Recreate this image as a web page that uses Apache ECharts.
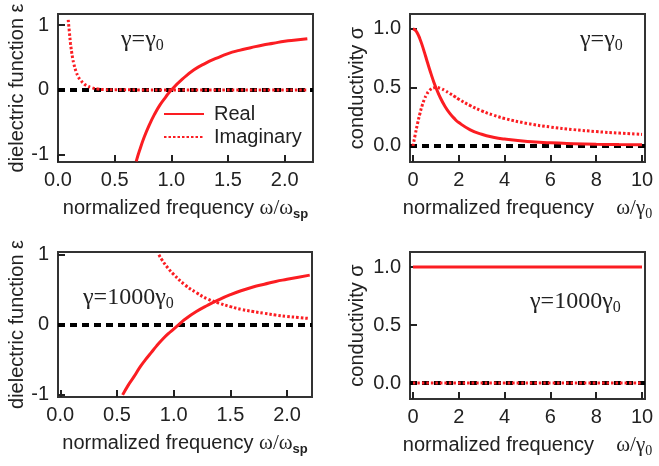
<!DOCTYPE html>
<html>
<head>
<meta charset="utf-8">
<script src="https://cdn.jsdelivr.net/npm/echarts@6/dist/echarts.min.js"></script>
<style>
  html, body { margin: 0; padding: 0; background: #fff; }
  #chart { width: 659px; height: 466px; }
</style>
</head>
<body>
<div id="chart"></div>
<script>
// Drude response: dielectric function vs ω/ω_sp and conductivity vs ω/γ0,
// for a small damping γ = γ0 (top row) and a large one γ = 1000γ0 (bottom row).

// tick values
const epsFreqTicks = [0, 0.5, 1, 1.5, 2];
const epsTicks = [-1, 0, 1];
const sigFreqTicks = [0, 2, 4, 6, 8, 10];
const sigTicks = [0, 0.5, 1];

// γ = γ0 : dielectric function
const eps1ReW = [0.69, 0.72, 0.76, 0.8, 0.85, 0.9, 0.95, 1.0, 1.1, 1.2, 1.3, 1.4, 1.5, 1.6, 1.7, 1.8, 1.9, 2.0, 2.1, 2.2];
const eps1Re  = [-1.10, -0.93, -0.73, -0.56, -0.38, -0.23, -0.11, 0.0, 0.17, 0.31, 0.41, 0.49, 0.56, 0.61, 0.65, 0.69, 0.72, 0.75, 0.77, 0.79];
const eps1ImW = [0.09, 0.1, 0.11, 0.12, 0.13, 0.14, 0.16, 0.18, 0.2, 0.22, 0.25, 0.3, 0.35, 0.4, 0.5, 0.7, 1.0, 1.5, 2.2];
const eps1Im  = [1.08, 0.9, 0.72, 0.59, 0.48, 0.4, 0.28, 0.2, 0.15, 0.11, 0.07, 0.035, 0.015, 0.006, 0.003, 0.001, 0.0005, 0.0002, 0.0001];

// γ = γ0 : conductivity
const sig1W  = [0, 0.1, 0.2, 0.3, 0.4, 0.5, 0.6, 0.7, 0.8, 0.9, 1.0, 1.2, 1.4, 1.6, 1.8, 2.0, 2.5, 3, 3.5, 4, 5, 6, 7, 8, 9, 10];
const sig1Re = [1, 0.99, 0.962, 0.917, 0.862, 0.8, 0.735, 0.671, 0.61, 0.552, 0.5, 0.41, 0.338, 0.281, 0.236, 0.2, 0.138, 0.1, 0.075, 0.059, 0.038, 0.027, 0.02, 0.015, 0.012, 0.01];
const sig1Im = [0, 0.099, 0.192, 0.275, 0.345, 0.4, 0.441, 0.47, 0.488, 0.497, 0.5, 0.492, 0.473, 0.449, 0.425, 0.4, 0.345, 0.3, 0.264, 0.235, 0.192, 0.162, 0.14, 0.123, 0.11, 0.099];

// γ = 1000γ0 : dielectric function
const eps2ReW = [0.55, 0.6, 0.65, 0.7, 0.75, 0.8, 0.85, 0.9, 0.95, 1.0, 1.05, 1.1, 1.2, 1.3, 1.4, 1.5, 1.6, 1.7, 1.8, 1.9, 2.0, 2.1, 2.2];
const eps2Re  = [-1.0, -0.86, -0.74, -0.61, -0.5, -0.4, -0.3, -0.21, -0.13, -0.06, 0.01, 0.08, 0.19, 0.28, 0.36, 0.43, 0.49, 0.54, 0.58, 0.62, 0.65, 0.68, 0.71];
const eps2ImW = [0.87, 0.9, 0.95, 1.0, 1.1, 1.2, 1.3, 1.4, 1.5, 1.6, 1.7, 1.8, 1.9, 2.0, 2.1, 2.2];
const eps2Im  = [1.0, 0.92, 0.81, 0.72, 0.57, 0.46, 0.37, 0.31, 0.26, 0.22, 0.19, 0.165, 0.14, 0.12, 0.105, 0.09];

// γ = 1000γ0 : conductivity
const sig2W  = [0, 2, 4, 6, 8, 10];
const sig2Re = [1, 1, 1, 1, 1, 1];
const sig2Im = [0, 0, 0, 0, 0, 0];

const RED = '#fb1d22';
const INK = '#222';
const SANS = 'Liberation Sans';
const SERIF = 'Liberation Serif';

const zip = (xs, ys) => xs.map((x, i) => [x, ys[i]]);

const grids = [
  { left: 58,  top: 14,  width: 255, height: 148 },
  { left: 410, top: 14,  width: 235, height: 148 },
  { left: 58,  top: 252, width: 254, height: 145 },
  { left: 410, top: 252, width: 235, height: 147 }
];

const tickStyle = { inside: true, length: 7, lineStyle: { color: INK, width: 2 } };
const labelFont = { fontFamily: SANS, fontSize: 20, color: INK };

const subRich = {
  t: { fontFamily: SANS, fontSize: 20, color: INK, lineHeight: 26 },
  w: { fontFamily: SERIF, fontSize: 21, color: INK, lineHeight: 26 },
  s: { fontFamily: SANS, fontSize: 13, fontWeight: 'bold', color: INK, lineHeight: 12, verticalAlign: 'bottom' },
  z: { fontFamily: SERIF, fontSize: 14, color: INK, lineHeight: 12, verticalAlign: 'bottom' }
};

function xAxis(idx, min, max, ticks, fmt, name) {
  return {
    type: 'value', gridIndex: idx, min, max, position: 'bottom',
    axisLine: { show: false, onZero: false },
    axisTick: Object.assign({ customValues: ticks }, tickStyle),
    axisLabel: Object.assign({ customValues: ticks, margin: 8, formatter: fmt }, labelFont),
    splitLine: { show: false },
    name, nameLocation: 'middle', nameGap: 33,
    nameTextStyle: { rich: subRich }
  };
}

function yAxis(idx, min, max, ticks, fmt, name, gap) {
  return {
    type: 'value', gridIndex: idx, min, max, position: 'left',
    axisLine: { show: false, onZero: false },
    axisTick: Object.assign({ customValues: ticks }, tickStyle),
    axisLabel: Object.assign({ customValues: ticks, margin: 9, formatter: fmt }, labelFont),
    splitLine: { show: false },
    name, nameLocation: 'middle', nameRotate: 90, nameGap: gap,
    nameTextStyle: { fontFamily: SANS, fontSize: 20, color: INK }
  };
}

const fmt1 = v => v.toFixed(1);
const fmt0 = v => String(Math.round(v));

// thick black dashed zero reference in every panel
const zeroLine = {
  silent: true, symbol: 'none', z: 1, animation: false,
  label: { show: false },
  lineStyle: { color: '#000', width: 4, type: [7, 5] },
  emphasis: { disabled: true },
  data: [{ yAxis: 0 }]
};

function curve(idx, name, xs, ys, dotted, withZero) {
  const s = {
    name, type: 'line', xAxisIndex: idx, yAxisIndex: idx,
    data: zip(xs, ys), symbol: 'none', smooth: 0.5, z: 3,
    lineStyle: { color: RED, width: 3, type: dotted ? [2.5, 2] : 'solid' },
    itemStyle: { color: RED },
    clip: true
  };
  if (withZero) s.markLine = zeroLine;
  return s;
}

const serifRich = {
  g: { fontFamily: SERIF, fontSize: 24, fill: INK, lineHeight: 28 },
  s: { fontFamily: SERIF, fontSize: 16, fill: INK, lineHeight: 14, verticalAlign: 'bottom' }
};

function gammaLabel(left, top, text) {
  return { type: 'text', left, top, style: { text, rich: serifRich } };
}

const option = {
  animation: false,
  backgroundColor: '#fff',
  grid: grids.map(g => Object.assign({ show: true, borderColor: '#333', borderWidth: 2, backgroundColor: 'transparent', containLabel: false }, g)),
  xAxis: [
    xAxis(0, 0, 2.25, epsFreqTicks, fmt1, '{t|normalized frequency }{w|ω/ω}{s|sp}'),
    xAxis(1, -0.13, 10.13, sigFreqTicks, fmt0, '{t|normalized frequency    }{w|ω/γ}{z|0}'),
    xAxis(2, -0.02, 2.22, epsFreqTicks, fmt1, '{t|normalized frequency }{w|ω/ω}{s|sp}'),
    xAxis(3, -0.13, 10.13, sigFreqTicks, fmt0, '{t|normalized frequency    }{w|ω/γ}{z|0}')
  ],
  yAxis: [
    yAxis(0, -1.11, 1.17, epsTicks, fmt0, 'dielectric function ε', 31),
    yAxis(1, -0.137, 1.128, sigTicks, fmt1, 'conductivity σ', 43),
    yAxis(2, -1.03, 1.04, epsTicks, fmt0, 'dielectric function ε', 30),
    yAxis(3, -0.138, 1.13, sigTicks, fmt1, 'conductivity σ', 43)
  ],
  legend: {
    left: 163, top: 104, orient: 'vertical', padding: 0,
    itemWidth: 40, itemHeight: 14, itemGap: 3,
    data: ['Real', 'Imaginary'],
    itemStyle: { opacity: 0 },
    textStyle: { fontFamily: SANS, fontSize: 20, color: INK, padding: [0, 0, 0, 5] },
    selectedMode: false
  },
  series: [
    curve(0, 'Real', eps1ReW, eps1Re, false, true),
    curve(0, 'Imaginary', eps1ImW, eps1Im, true, false),
    curve(1, 'Real', sig1W, sig1Re, false, true),
    curve(1, 'Imaginary', sig1W, sig1Im, true, false),
    curve(2, 'Real', eps2ReW, eps2Re, false, true),
    curve(2, 'Imaginary', eps2ImW, eps2Im, true, false),
    curve(3, 'Real', sig2W, sig2Re, false, true),
    curve(3, 'Imaginary', sig2W, sig2Im, true, false)
  ],
  graphic: [
    gammaLabel(121, 28, '{g|γ=γ}{s|0}'),
    gammaLabel(580, 28, '{g|γ=γ}{s|0}'),
    gammaLabel(83, 286, '{g|γ=1000γ}{s|0}'),
    gammaLabel(530, 290, '{g|γ=1000γ}{s|0}')
  ]
};

const chart = echarts.init(document.getElementById('chart'), null, { renderer: 'canvas' });
chart.setOption(option);
</script>
</body>
</html>
